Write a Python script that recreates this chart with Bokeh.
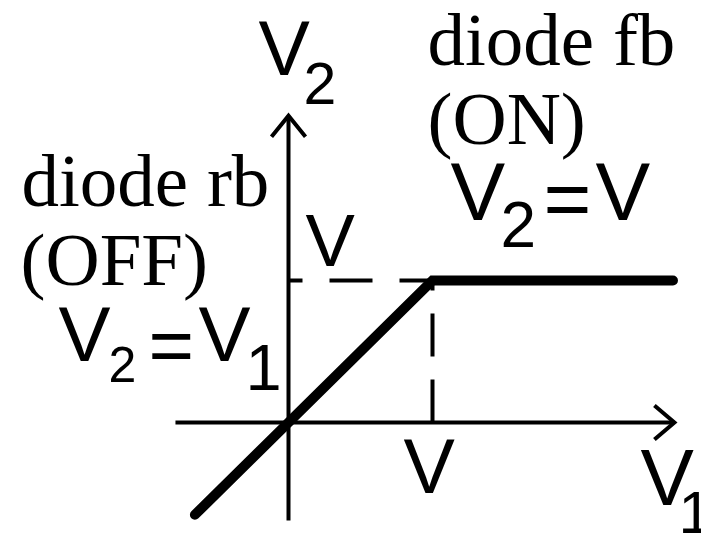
from bokeh.plotting import figure
from bokeh.embed import file_html
from bokeh.resources import INLINE
from bokeh.core.properties import value

# ---- data (V = knee voltage = 1 unit) ----
V = 1.0
curve_x = [-0.65, 0.0, V, 2.67]          # V1
curve_y = [-0.65, 0.0, V, V]             # V2 = V1 up to V, then clamped at V
x_axis_ext = [-0.785, 2.68]
y_axis_ext = [-0.69, 2.16]

# label pieces: text, image-x (left), image-y (baseline), size px
serif_labels = [
    ("diode fb", 427, 67), ("(ON)", 427, 146),
    ("diode rb", 21, 208), ("(OFF)", 20, 287),
]
sans_labels = [
    ("V", 258, 77, 77), ("2", 303, 105, 59),
    ("V", 450, 222, 82), ("2", 500, 248, 64), ("=", 543, 229, 82), ("V", 595, 222, 82),
    ("V", 58, 363, 78), ("2", 108, 383, 50), ("=", 148, 374, 78), ("V", 198, 363, 78), ("1", 245, 392, 65),
    ("V", 305, 268, 74),
    ("V", 403, 495, 77),
    ("V", 640, 507, 80), ("1", 678, 535, 60),
]

W, H = 701, 533
SX, SY = 144.0, 142.0          # pixels per unit
OX, OY = 288, 422              # origin position inside frame (px)
x0 = -OX / SX
x1 = (W - OX) / SX
y1 = OY / SY
y0 = -(H - OY) / SY
BASE_FIX = 0.38                # baseline correction (fraction of font size)
SERIF_SIZE = 75

def dx(ix):
    return x0 + ix / SX

def dy(iy, size):
    return y1 - (iy - BASE_FIX * size) / SY

p = figure(width=W, height=H, x_range=(x0, x1), y_range=(y0, y1),
           output_backend="svg", toolbar_location=None, min_border=0,
           x_axis_location=None, y_axis_location=None)
p.grid.visible = False
p.outline_line_color = None
p.background_fill_color = "white"
p.border_fill_color = "white"

# axes
p.line(x_axis_ext, [0, 0], line_color="black", line_width=4)
p.line([0, 0], y_axis_ext, line_color="black", line_width=4)
# arrow heads (open)
back_x, half_x = 20 / SX, 17 / SY
back_y, half_y = 21 / SY, 17 / SX
p.line([x_axis_ext[1] - back_x, x_axis_ext[1], x_axis_ext[1] - back_x],
       [half_x, 0, -half_x], line_color="black", line_width=4, line_join="miter")
p.line([-half_y, 0, half_y],
       [y_axis_ext[1] - back_y, y_axis_ext[1], y_axis_ext[1] - back_y],
       line_color="black", line_width=4, line_join="miter")

# dashed guides
p.line([0, V], [V, V], line_color="black", line_width=4, line_dash="43 27", line_dash_offset=29)
p.line([V, V], [0, V], line_color="black", line_width=4, line_dash="43 23")

# transfer curve
p.line(curve_x, curve_y, line_color="black", line_width=10, line_cap="round", line_join="miter")

for t, ix, iy in serif_labels:
    p.text(x=[dx(ix)], y=[dy(iy, SERIF_SIZE)], text=[t], text_font=value("Liberation Serif"),
           text_font_size=f"{SERIF_SIZE}px", text_align="left", text_baseline="alphabetic",
           text_color="black")
for t, ix, iy, s in sans_labels:
    p.text(x=[dx(ix)], y=[dy(iy, s)], text=[t], text_font=value("Liberation Sans"),
           text_font_size=f"{s}px", text_align="left", text_baseline="alphabetic", text_color="black")

open("out.html", "w").write(file_html(p, INLINE))
